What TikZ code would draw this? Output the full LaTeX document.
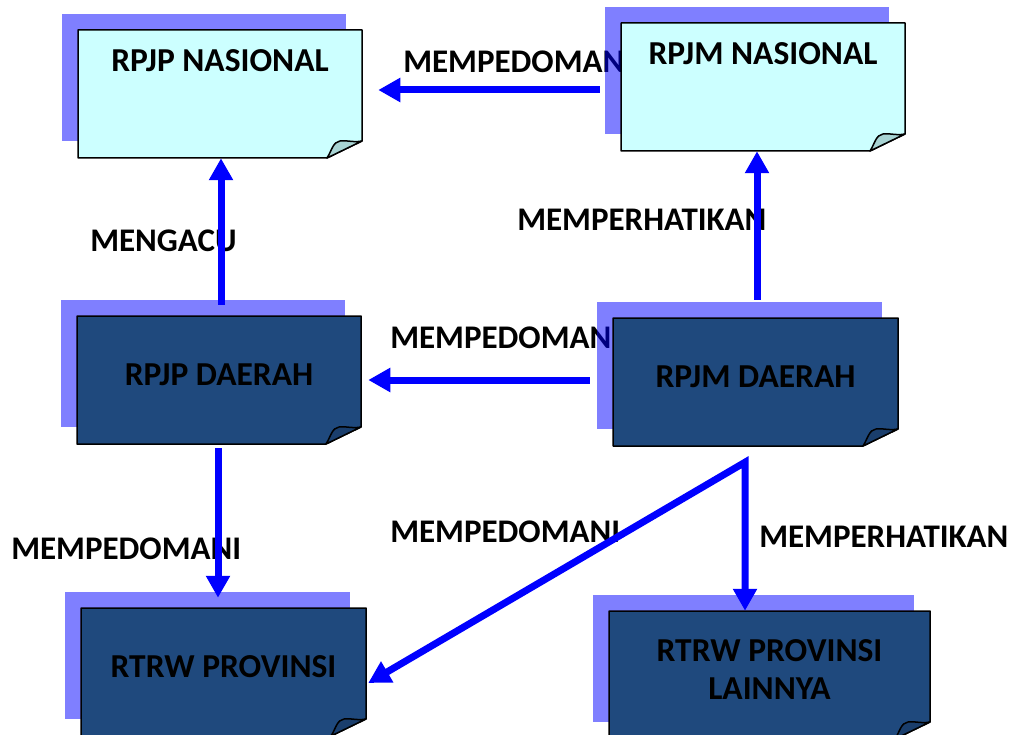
\documentclass[tikz,border=0pt]{standalone}
\usepackage{fontspec}
\setmainfont{Carlito}
\usetikzlibrary{arrows.meta,calc}

\definecolor{arrblue}{RGB}{0,0,255}
\definecolor{paperlight}{RGB}{204,255,255}
\definecolor{foldlight}{RGB}{168,212,212}
\definecolor{paperdark}{RGB}{31,73,125}
\definecolor{folddark}{RGB}{26,62,108}

\tikzset{every picture/.style={line width=0.5pt}}
\tikzset{
  shadowfill/.style={fill=arrblue,fill opacity=0.5},
  paper/.style={draw=black,line width=1.5pt,line join=round},
  bigtext/.style={font=\fontsize{33}{38}\selectfont\bfseries},
  boxtext/.style={font=\fontsize{33.5}{38}\selectfont\bfseries},
  boxnode/.style={boxtext,minimum height=128pt,inner sep=0pt,align=center},
  lbl/.style={bigtext,anchor=west,inner sep=0pt},
  arr/.style={draw=arrblue,line width=7pt,-{Triangle[length=22pt,width=23pt]}},
}

% shadow, sheet and curled corner: centre x, centre y, width, fill, fold fill
\newcommand{\notepaper}[5]{%
  \fill[shadowfill] ({#1-#3/2-16},{#2-80}) rectangle ++(#3,127);
  \filldraw[paper,fill=#4] ({#1-#3/2},{#2-64}) -- ({#1+#3/2},{#2-64}) -- ({#1+#3/2},{#2+47}) -- ({#1+#3/2-35},{#2+64}) -- ({#1-#3/2},{#2+64}) -- cycle;
  \filldraw[paper,fill=#5] ({#1+#3/2-35},{#2+64}) .. controls ({#1+#3/2-30},{#2+56}) and ({#1+#3/2-29},{#2+48}) .. ({#1+#3/2-22},{#2+47}) .. controls ({#1+#3/2-14},{#2+46}) and ({#1+#3/2-7},{#2+49}) .. ({#1+#3/2},{#2+47}) -- cycle;
}

\begin{document}
\begin{tikzpicture}[x=1pt,y=1pt,yscale=-1,xscale=1]
\useasboundingbox (0,0) rectangle (1014,735);

% Labels
\node[lbl] (lbltop) at (403,62) {MEMPEDOMANI};
\node[lbl] (lblacu) at (90,241) {MENGACU};
\node[lbl] (lblhatiatas) at (517,220) {MEMPERHATIKAN};
\node[lbl] (lblmid) at (390,338) {MEMPEDOMANI};
\node[lbl] (lblkiri) at (11,549) {MEMPEDOMANI};
\node[lbl] (lbldiag) at (390,532) {MEMPEDOMANI};
\node[lbl] (lblhatikanan) at (759,537) {MEMPERHATIKAN};

% Sheets
\notepaper{220}{94}{284}{paperlight}{foldlight}
\node[boxnode,minimum width=284pt,label={[boxtext,anchor=north,inner sep=0pt,label distance=-20pt]north:RPJP NASIONAL}] (rpjpnas) at (220,94) {};
\notepaper{763}{87}{284}{paperlight}{foldlight}
\node[boxnode,minimum width=284pt,label={[boxtext,anchor=north,inner sep=0pt,label distance=-20pt]north:RPJM NASIONAL}] (rpjmnas) at (763,87) {};
\notepaper{219}{380}{284}{paperdark}{folddark}
\node[boxnode,minimum width=284pt,text depth=11pt] (rpjpdae) at (219,380) {RPJP DAERAH};
\notepaper{755.5}{382}{285}{paperdark}{folddark}
\node[boxnode,minimum width=285pt,text depth=11pt] (rpjmdae) at (755.5,382) {RPJM DAERAH};
\notepaper{223.5}{672}{285}{paperdark}{folddark}
\node[boxnode,minimum width=285pt,text depth=11pt] (rtrwprov) at (223.5,672) {RTRW PROVINSI};
\notepaper{769.5}{675}{321}{paperdark}{folddark}
\node[boxnode,minimum width=321pt,text depth=11pt] (rtrwlain) at (769.5,675) {RTRW PROVINSI\\LAINNYA};

% Arrows
\coordinate (cabang) at ($(rpjmdae.south)+(-10.5,16)$);
\draw[arr] ($(rpjmnas.west)+(-21,3)$) -- ($(rpjpnas.east)+(16,-4)$);
\draw[arr] ($(rpjpdae.north)+(2,-11)$) -- ($(rpjpnas.south)+(1,0)$);
\draw[arr] ($(rpjmdae.north)+(1.5,-18)$) -- ($(rpjmnas.south)+(-6,0)$);
\draw[arr] ($(rpjmdae.west)+(-23,-2)$) -- ($(rpjpdae.east)+(7,0)$);
\draw[arr] ($(rpjpdae.south)+(-1,4)$) -- ($(rtrwprov.north)+(-5.5,-10)$);
\draw[arr,{Triangle[length=22pt,width=23pt]}-{Triangle[length=22pt,width=23pt]}] ($(rtrwlain.north)+(-24.5,0)$) -- (cabang) -- ($(rtrwprov.east)+(2,11)$);

\end{tikzpicture}
\end{document}
